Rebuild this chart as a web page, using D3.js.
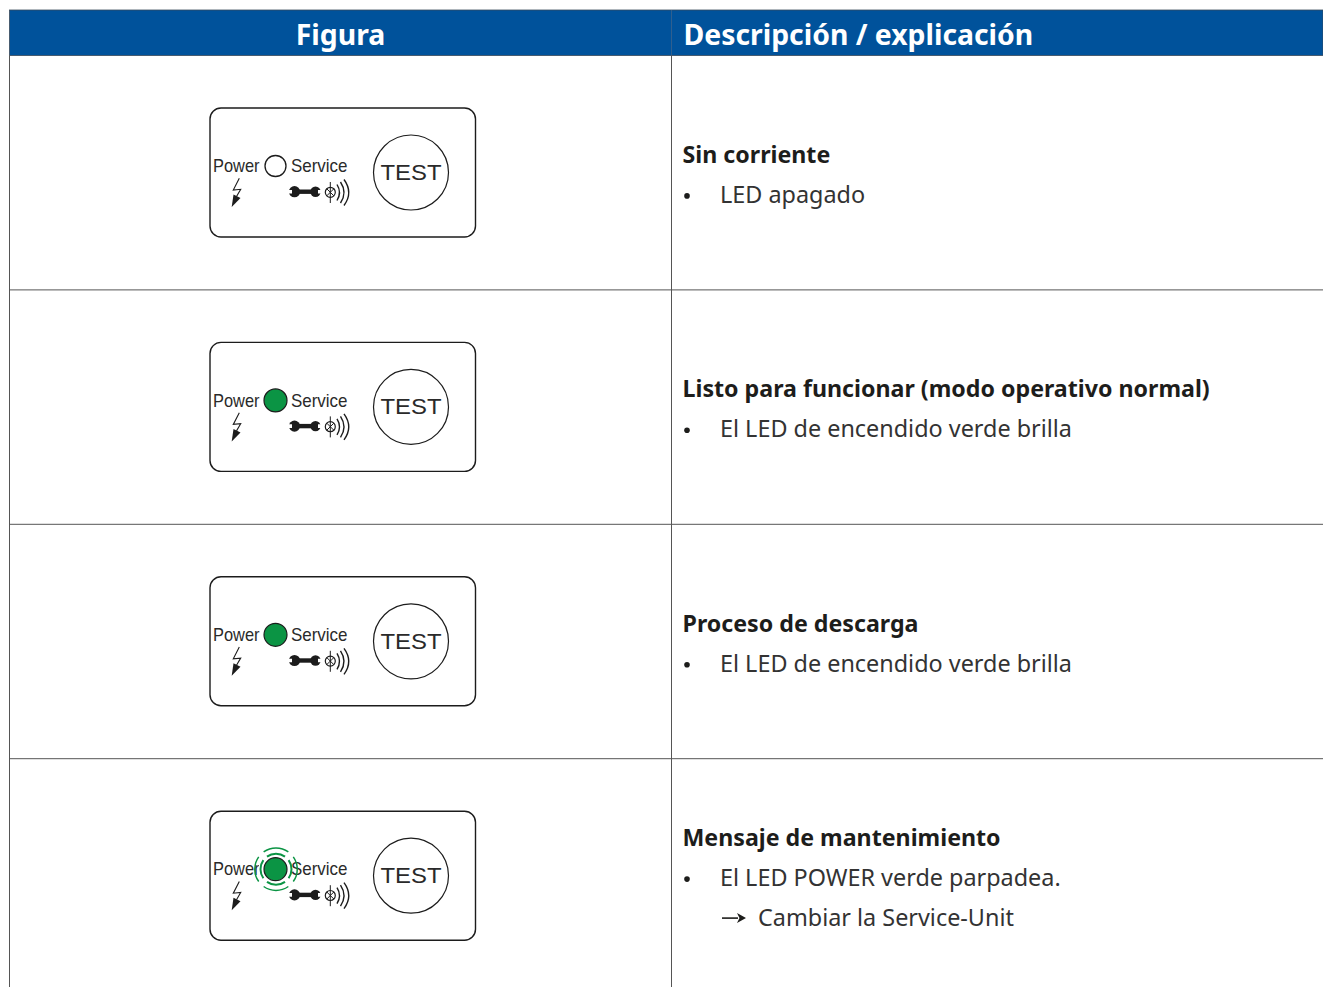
<!DOCTYPE html>
<html>
<head>
<meta charset="utf-8">
<script src="https://cdn.jsdelivr.net/npm/d3@7"></script>
<style>
  html, body { margin: 0; padding: 0; background: #fff; overflow: hidden; }
  text { font-family: "Noto Sans", sans-serif; }
  .panel text { font-family: "Liberation Sans", sans-serif; fill: #2a2a2a; }
</style>
</head>
<body>
<div id="table"></div>
<script>
var headers = ["Figura", "Descripción / explicación"];
var titles = ["Sin corriente", "Listo para funcionar (modo operativo normal)", "Proceso de descarga", "Mensaje de mantenimiento"];
var bullets = [["LED apagado"], ["El LED de encendido verde brilla"], ["El LED de encendido verde brilla"], ["El LED POWER verde parpadea."]];
var actions = [[], [], [], ["Cambiar la Service-Unit"]];
var ledStates = ["off", "on", "on", "blink"];

var width = 1323, height = 987;
var left = 9.5, divider = 671.5, headTop = 10, headBottom = 55.5;

var svg = d3.select("#table").append("svg")
    .attr("width", width)
    .attr("height", height)
    .style("display", "block");

// rows all have the same height, the last one runs off the page
var rowY = d3.scaleLinear().domain([0, 1]).range([headBottom, headBottom + 234.4]);

// header
svg.append("rect")
  .attr("x", left).attr("y", headTop)
  .attr("width", width - left).attr("height", headBottom - headTop)
  .attr("fill", "#00529b")
  .attr("stroke", "#3b4a5a").attr("stroke-width", 0.8);

svg.append("line")
  .attr("x1", divider).attr("x2", divider)
  .attr("y1", headTop).attr("y2", headBottom)
  .attr("stroke", "#2f5f8f").attr("stroke-width", 1);

svg.append("text").attr("class", "head")
  .attr("x", 340.5).attr("y", 45)
  .attr("text-anchor", "middle")
  .attr("font-size", 28.35).attr("font-weight", 700).attr("fill", "#fff")
  .text(headers[0]);

svg.append("text").attr("class", "head")
  .attr("x", 683.5).attr("y", 45)
  .attr("font-size", 28.35).attr("font-weight", 700).attr("fill", "#fff")
  .text(headers[1]);

// grid
svg.append("line")
  .attr("x1", left).attr("x2", left)
  .attr("y1", headBottom).attr("y2", height)
  .attr("stroke", "#555").attr("stroke-width", 1);

svg.append("line")
  .attr("x1", divider).attr("x2", divider)
  .attr("y1", headBottom).attr("y2", height)
  .attr("stroke", "#555").attr("stroke-width", 1);

svg.selectAll(".rowline")
  .data(d3.range(1, titles.length))
  .enter().append("line")
  .attr("class", "rowline")
  .attr("x1", left).attr("x2", width)
  .attr("y1", function(d) { return rowY(d); })
  .attr("y2", function(d) { return rowY(d); })
  .attr("stroke", "#555").attr("stroke-width", 1);

// the device panels
var panels = svg.selectAll(".panel")
  .data(ledStates)
  .enter().append("g")
  .attr("class", "panel")
  .attr("transform", function(d, i) { return "translate(210," + (rowY(i) + 52.5) + ")"; })
  .each(drawPanel);

function drawPanel(state) {
  var g = d3.select(this);
  var ink = "#1c1c1c";

  g.append("rect")
    .attr("x", 0).attr("y", 0)
    .attr("width", 265.5).attr("height", 129)
    .attr("rx", 11)
    .attr("fill", "#fff").attr("stroke", ink).attr("stroke-width", 1.4);

  g.append("text").attr("x", 3).attr("y", 64.2).attr("font-size", 18.5)
    .attr("textLength", 46.5).attr("lengthAdjust", "spacingAndGlyphs")
    .text("Power");

  // the blinking LED covers the end of the word
  if (state === "blink") {
    g.append("circle").attr("cx", 66).attr("cy", 58).attr("r", 17.5).attr("fill", "#fff");
  }

  g.append("text").attr("x", 81).attr("y", 64.2).attr("font-size", 18.5)
    .attr("textLength", 56.5).attr("lengthAdjust", "spacingAndGlyphs")
    .text("Service");

  g.append("text").attr("x", 170.5).attr("y", 72)
    .attr("font-size", 21.5)
    .attr("textLength", 61).attr("lengthAdjust", "spacingAndGlyphs")
    .text("TEST");

  g.append("circle")
    .attr("cx", 201).attr("cy", 64.5).attr("r", 37.5)
    .attr("fill", "none").attr("stroke", ink).attr("stroke-width", 1.2);

  // LED
  g.append("circle")
    .attr("cx", 65.5).attr("cy", 58).attr("r", state === "off" ? 10.5 : 11.5)
    .attr("fill", state === "off" ? "#fff" : "#0b9444")
    .attr("stroke", ink).attr("stroke-width", state === "off" ? 1.3 : 1.2);

  if (state === "blink") {
    var arc = d3.arc();
    var rings = [[14.5, 16.5], [20.5, 22]];
    rings.forEach(function(r) {
      d3.range(4).forEach(function(k) {
        var a = k * Math.PI / 2;
        g.append("path")
          .attr("transform", "translate(66,58)")
          .attr("fill", "#0b9444")
          .attr("d", arc({
            innerRadius: r[0], outerRadius: r[1],
            startAngle: a - 0.62, endAngle: a + 0.62
          }));
      });
    });
  }

  // lightning bolt
  g.append("path")
    .attr("d", "M29.3,70.3 L23.3,82 L30.7,81.3 L26.5,88.5")
    .attr("fill", "none").attr("stroke", ink).attr("stroke-width", 1.1);
  g.append("path")
    .attr("d", "M23.5,86.5 L30.5,90 L21.7,99 Z")
    .attr("fill", ink);

  // spanner
  g.append("circle").attr("cx", 84.5).attr("cy", 83.7).attr("r", 5.6).attr("fill", ink);
  g.append("circle").attr("cx", 105.5).attr("cy", 83.7).attr("r", 5.2).attr("fill", ink);
  g.append("rect").attr("x", 85).attr("y", 81.5).attr("width", 20).attr("height", 4.4).attr("fill", ink);
  g.append("path").attr("d", "M78,81.9 H82 V85.5 H78 Z M112,81.9 H108 V85.5 H112 Z").attr("fill", "#fff");

  // lamp and its waves
  g.append("circle").attr("cx", 120.3).attr("cy", 84.3).attr("r", 5)
    .attr("fill", "none").attr("stroke", ink).attr("stroke-width", 1.2);
  g.append("path")
    .attr("d", "M120.3,74 V95 M116.8,80.8 L123.8,87.8 M123.8,80.8 L116.8,87.8")
    .attr("fill", "none").attr("stroke", ink).attr("stroke-width", 1);
  g.append("path")
    .attr("d", "M127,76.5 Q132,84.5 127,92.5 M130.5,74 Q137.5,84.5 130.5,95 M134,71.5 Q143.5,84.5 134,97.5")
    .attr("fill", "none").attr("stroke", ink).attr("stroke-width", 1.4);
}

// description column
var textColor = "#1d1d1b", lineStep = 40;

titles.forEach(function(title, i) {
  var lines = 1 + bullets[i].length + actions[i].length;
  var middle = (rowY(i) + rowY(i + 1)) / 2 + 10.2;
  var y = middle - (lines - 1) * lineStep / 2;

  svg.append("text").attr("class", "title")
    .attr("x", 682.5).attr("y", y)
    .attr("font-size", 23.2).attr("font-weight", 700).attr("fill", textColor)
    .text(title);

  bullets[i].forEach(function(b) {
    y += lineStep;
    svg.append("circle").attr("cx", 687).attr("cy", y - 7).attr("r", 2.8).attr("fill", textColor);
    svg.append("text").attr("class", "body")
      .attr("x", 720).attr("y", y)
      .attr("font-size", 23.4).attr("fill", "#333")
      .text(b);
  });

  actions[i].forEach(function(a) {
    y += lineStep;
    svg.append("path")
      .attr("d", "M722," + (y - 8) + " H738")
      .attr("stroke", textColor).attr("stroke-width", 1.6);
    svg.append("path")
      .attr("d", "M737," + (y - 13) + " L746," + (y - 8) + " L737," + (y - 3) + " L739.5," + (y - 8) + " Z")
      .attr("fill", textColor);
    svg.append("text").attr("class", "body")
      .attr("x", 758).attr("y", y)
      .attr("font-size", 23.4).attr("fill", "#333")
      .text(a);
  });
});
</script>
</body>
</html>
